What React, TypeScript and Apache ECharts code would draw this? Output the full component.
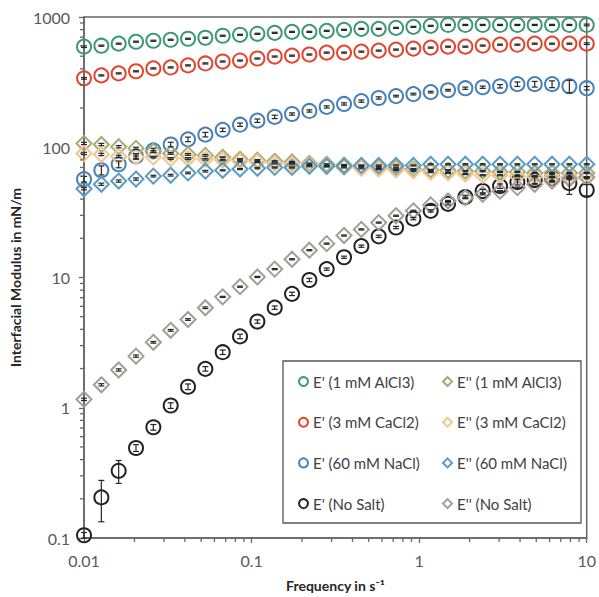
import React, { useEffect, useRef } from 'react';
import * as echarts from 'echarts';

const freq = [0.01, 0.01269, 0.0161, 0.02043, 0.02593, 0.0329, 0.04175, 0.05298, 0.06723, 0.08532,
  0.1083, 0.1374, 0.1743, 0.2212, 0.2807, 0.3562, 0.452, 0.5736, 0.7279, 0.9237,
  1.172, 1.487, 1.887, 2.395, 3.039, 3.857, 4.894, 6.21, 7.88, 10];

const eAl = [592, 602, 624, 646, 657, 669, 681, 693, 718, 730, 743, 756, 769, 769, 783, 797, 811, 811, 825, 840, 855, 869, 869, 869, 869, 869, 869, 869, 869, 869];
const eCa = [338, 356, 369, 383, 403, 410, 425, 440, 455, 463, 480, 497, 505, 515, 533, 533, 542, 552, 562, 572, 582, 592, 592, 603, 613, 613, 624, 624, 624, 624];
const eNa = [56.9, 66.6, 74, 85.1, 94.5, 105, 115, 125, 136, 149, 160, 171, 180, 190, 204, 215, 226, 239, 247, 256, 265, 274, 284, 289, 294, 305, 305, 305, 294, 284];
const eNo = [0.105, 0.205, 0.328, 0.491, 0.708, 1.04, 1.45, 1.99, 2.67, 3.53, 4.59, 5.87, 7.49, 9.57, 11.6, 14.3, 17.4, 20.7, 24.2, 28.3, 32.5, 36.8, 41.5, 46.1, 50.3, 54, 56, 58, 53, 47];
const vAl = [107, 105, 101, 98, 93, 89.6, 88, 86.6, 83.7, 81, 79.6, 78, 77, 75, 74, 73, 71.5, 70.3, 69, 68, 67, 66.5, 65.5, 65.5, 64.5, 64.5, 63.5, 63.5, 63.5, 63.5];
const vCa = [89.6, 88, 85, 84, 84, 82, 82, 81, 79.6, 78, 77, 75, 74, 73, 71.5, 70, 69, 68, 67, 66, 64.5, 63.5, 62.3, 61, 61, 60, 60, 59, 59, 58];
const vNa = [48, 52, 55, 57, 60, 61, 63.5, 65.5, 66.5, 68, 69, 70, 70, 71.5, 71.5, 71.5, 72.5, 72.5, 72.5, 72.5, 74, 74, 74, 74, 74, 74, 74, 74, 74, 74];
const vNo = [1.16, 1.5, 1.95, 2.49, 3.18, 3.93, 4.76, 5.86, 7.1, 8.5, 10.1, 11.6, 13.8, 16.2, 18.2, 21, 23.4, 26.4, 29.8, 32.5, 36.1, 38.7, 41, 43.5, 46, 49, 52, 55, 57, 59];

// relative half-width of the error bars
const errEAl = [0.015, 0.01, 0.01, 0.01, 0.01, 0.01, 0.01, 0.01, 0.01, 0.01, 0.01, 0.01, 0.01, 0.01, 0.01, 0.01, 0.01, 0.01, 0.01, 0.01, 0.01, 0.01, 0.01, 0.01, 0.01, 0.01, 0.01, 0.01, 0.01, 0.015];
const errECa = [0.015, 0.01, 0.01, 0.01, 0.01, 0.01, 0.01, 0.01, 0.01, 0.01, 0.01, 0.01, 0.01, 0.01, 0.01, 0.01, 0.01, 0.01, 0.01, 0.01, 0.01, 0.01, 0.01, 0.01, 0.01, 0.01, 0.01, 0.01, 0.01, 0.015];
const errENa = [0.05, 0.08, 0.06, 0.05, 0.04, 0.04, 0.04, 0.04, 0.03, 0.03, 0.03, 0.03, 0.02, 0.02, 0.02, 0.02, 0.02, 0.02, 0.015, 0.015, 0.015, 0.015, 0.02, 0.02, 0.03, 0.04, 0.05, 0.06, 0.11, 0.03];
const errENo = [0.05, 0.35, 0.2, 0.06, 0.05, 0.05, 0.05, 0.04, 0.04, 0.04, 0.03, 0.03, 0.03, 0.03, 0.02, 0.02, 0.02, 0.02, 0.02, 0.02, 0.02, 0.02, 0.03, 0.03, 0.04, 0.05, 0.06, 0.07, 0.18, 0.1];
const errV = [0.02, 0.02, 0.02, 0.02, 0.015, 0.015, 0.015, 0.015, 0.01, 0.01, 0.01, 0.01, 0.01, 0.01, 0.01, 0.01, 0.01, 0.01, 0.01, 0.01, 0.01, 0.01, 0.01, 0.01, 0.01, 0.01, 0.01, 0.01, 0.01, 0.01];

const xMinor = [0.02, 0.03, 0.04, 0.05, 0.06, 0.07, 0.08, 0.09, 0.2, 0.3, 0.4, 0.5, 0.6, 0.7, 0.8, 0.9, 2, 3, 4, 5, 6, 7, 8, 9];
const yMinor = [0.2, 0.3, 0.4, 0.5, 0.6, 0.7, 0.8, 0.9, 2, 3, 4, 5, 6, 7, 8, 9, 20, 30, 40, 50, 60, 70, 80, 90, 200, 300, 400, 500, 600, 700, 800, 900];

const X_MIN = 0.01, X_MAX = 10, Y_MIN = 0.1, Y_MAX = 1000;

const seriesDefs = [
  { name: "E' (1 mM AlCl3)", values: eAl, err: errEAl, color: '#3b9a74', symbol: 'circle', col: 0 },
  { name: "E' (3 mM CaCl2)", values: eCa, err: errECa, color: '#e5432c', symbol: 'circle', col: 0 },
  { name: "E' (60 mM NaCl)", values: eNa, err: errENa, color: '#4680bb', symbol: 'circle', col: 0 },
  { name: "E' (No Salt)", values: eNo, err: errENo, color: '#222222', symbol: 'circle', col: 0 },
  { name: "E'' (1 mM AlCl3)", values: vAl, err: errV, color: '#a5ad74', symbol: 'diamond', col: 1 },
  { name: "E'' (3 mM CaCl2)", values: vCa, err: errV, color: '#f3c592', symbol: 'diamond', col: 1 },
  { name: "E'' (60 mM NaCl)", values: vNa, err: errV, color: '#5b9cc4', symbol: 'diamond', col: 1 },
  { name: "E'' (No Salt)", values: vNo, err: errV, color: '#a39c9a', symbol: 'diamond', col: 1 },
];

const FONT = 'Lato, "Open Sans", sans-serif';

export default function App() {
  const ref = useRef<HTMLDivElement>(null);
  useEffect(() => {
    document.body.style.margin = '0';
    const chart = echarts.init(ref.current!, null, { renderer: 'svg' });

    const scatter = seriesDefs.map((d) => ({
      type: 'scatter',
      name: d.name,
      symbol: d.symbol,
      symbolSize: d.symbol === 'circle' ? 14 : 15,
      data: freq.map((f, i) => [f, d.values[i]]),
      itemStyle: { color: 'rgba(0,0,0,0)', borderColor: d.color, borderWidth: 2, opacity: 1 },
      z: 3,
      silent: true,
    }));

    const errSeries = seriesDefs.map((d) => ({
      type: 'custom',
      name: d.name + ' err',
      silent: true,
      clip: false,
      z: 4,
      data: freq.map((f, i) => [f, d.values[i], d.values[i] * (1 - d.err[i]), d.values[i] * (1 + d.err[i])]),
      encode: { x: 0, y: 1 },
      renderItem: (params: any, api: any) => {
        const x = api.value(0);
        const lo = api.coord([x, api.value(2)]);
        const hi = api.coord([x, api.value(3)]);
        const st = { stroke: '#262626', lineWidth: 1.2 };
        return {
          type: 'group',
          children: [
            { type: 'line', shape: { x1: lo[0], y1: lo[1], x2: hi[0], y2: hi[1] }, style: st },
            { type: 'line', shape: { x1: lo[0] - 3, y1: lo[1], x2: lo[0] + 3, y2: lo[1] }, style: st },
            { type: 'line', shape: { x1: hi[0] - 3, y1: hi[1], x2: hi[0] + 3, y2: hi[1] }, style: st },
          ],
        };
      },
    }));

    const minorX = {
      type: 'custom',
      silent: true,
      clip: false,
      z: 5,
      data: xMinor.map((v) => [v, Y_MIN]),
      renderItem: (params: any, api: any) => {
        const p = api.coord([api.value(0), api.value(1)]);
        return { type: 'line', shape: { x1: p[0], y1: p[1], x2: p[0], y2: p[1] + 4 }, style: { stroke: '#666', lineWidth: 1.3 } };
      },
    };
    const minorY = {
      type: 'custom',
      silent: true,
      clip: false,
      z: 5,
      data: yMinor.map((v) => [X_MIN, v]),
      renderItem: (params: any, api: any) => {
        const p = api.coord([api.value(0), api.value(1)]);
        return { type: 'line', shape: { x1: p[0] - 4, y1: p[1], x2: p[0], y2: p[1] }, style: { stroke: '#666', lineWidth: 1.3 } };
      },
    };

    const fmt = (v: number) => String(Number(v.toPrecision(6)));

    const option: any = {
      animation: false,
      backgroundColor: '#fff',
      grid: { left: 70, right: 8, top: 17, bottom: 53, show: true, borderColor: '#666', borderWidth: 1.5, backgroundColor: 'transparent' },
      xAxis: {
        type: 'log',
        logBase: 10,
        min: X_MIN,
        max: X_MAX,
        name: 'Frequency in s\u207B\u00B9',
        nameLocation: 'middle',
        nameGap: 40,
        nameTextStyle: { fontFamily: FONT, fontSize: 14, fontWeight: 'bold', color: '#262626' },
        axisLine: { show: true, onZero: false, lineStyle: { color: '#666', width: 1.5 } },
        axisTick: { show: true, inside: false, length: 5, lineStyle: { color: '#666', width: 1.3 } },
        axisLabel: { formatter: fmt, margin: 14, fontFamily: FONT, fontSize: 16, color: '#595959' },
        splitLine: { show: false },
        minorTick: { show: false },
      },
      yAxis: {
        type: 'log',
        logBase: 10,
        min: Y_MIN,
        max: Y_MAX,
        name: 'Interfacial Modulus in mN/m',
        nameLocation: 'middle',
        nameGap: 45,
        nameRotate: 90,
        nameTextStyle: { fontFamily: FONT, fontSize: 14, fontWeight: 'bold', color: '#262626' },
        axisLine: { show: true, onZero: false, lineStyle: { color: '#666', width: 1.5 } },
        axisTick: { show: true, inside: false, length: 5, lineStyle: { color: '#666', width: 1.3 } },
        axisLabel: { formatter: fmt, margin: 14, fontFamily: FONT, fontSize: 16, color: '#595959' },
        splitLine: { show: false },
        minorTick: { show: false },
      },
      legend: [0, 1].map((c) => ({
        orient: 'vertical',
        left: c === 0 ? 298 : 442,
        top: 373,
        itemWidth: 9,
        itemHeight: 9,
        itemGap: 23.7,
        padding: 0,
        selectedMode: false,
        textStyle: { fontFamily: FONT, fontSize: 15, color: '#404040', lineHeight: 17 },
        data: seriesDefs.filter((d) => d.col === c).map((d) => d.name),
        z: 6,
      })),
      graphic: [
        {
          type: 'rect',
          shape: { x: 283, y: 361, width: 298, height: 162 },
          style: { fill: '#fff', stroke: '#555', lineWidth: 1.3 },
          z: 5,
          silent: true,
        },
      ],
      series: [...scatter, ...errSeries, minorX, minorY],
    };

    chart.setOption(option);
    return () => chart.dispose();
  }, []);
  return <div ref={ref} style={{ width: 599, height: 597 }} />;
}
